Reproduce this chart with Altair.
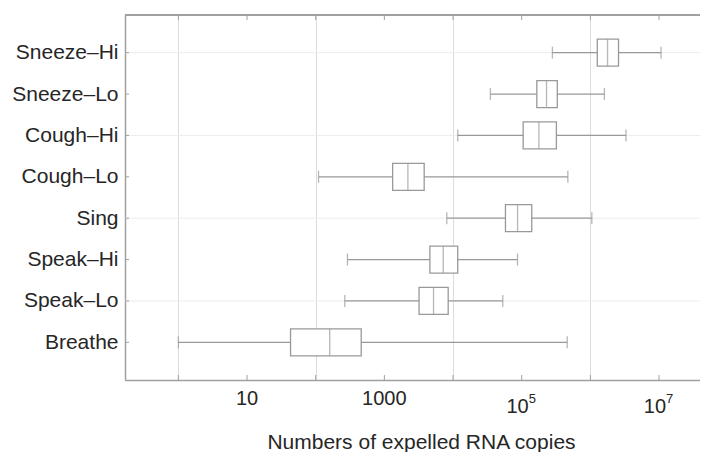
import altair as alt
import pandas as pd

# ---- data ----
categories = ["Sneeze–Hi", "Sneeze–Lo", "Cough–Hi", "Cough–Lo",
              "Sing", "Speak–Hi", "Speak–Lo", "Breathe"]
whisker_lo = [2.8e5, 3.5e4, 1.17e4, 110, 8100, 290, 265, 1]
q1 = [1.26e6, 1.66e5, 1.05e5, 1320, 5.8e4, 4600, 3200, 43]
median = [1.78e6, 2.3e5, 1.78e5, 2200, 8.7e4, 7200, 5200, 160]
q3 = [2.57e6, 3.3e5, 3.2e5, 3800, 1.4e5, 1.17e4, 8500, 460]
whisker_hi = [1.07e7, 1.6e6, 3.3e6, 4.7e5, 1.05e6, 8.7e4, 5.3e4, 4.6e5]

grid_categories = ["Sneeze–Hi", "Cough–Hi", "Sing", "Speak–Lo"]
decade_ticks = [1, 10, 100, 1000, 1e4, 1e5, 1e6, 1e7]
grid_x = [1, 100, 1e4, 1e6]
plain_labels = [10, 1000]
plain_label_text = ["10", "1000"]
power_labels = [1e5, 1e7]
power_label_exp = ["5", "7"]

x_title = "Numbers of expelled RNA copies"

W, H = 575, 365
FONT = "Liberation Sans"
TXT = "#262626"
LINE = "#999999"

df = pd.DataFrame({"cat": categories, "lo": whisker_lo, "q1": q1,
                   "med": median, "q3": q3, "hi": whisker_hi})
df_grid = pd.DataFrame({"cat": grid_categories})
df_ticks = pd.DataFrame({"v": decade_ticks})
df_plain = pd.DataFrame({"v": plain_labels, "t": plain_label_text})
df_pow = pd.DataFrame({"v": power_labels, "e": power_label_exp,
                       "b": ["10"] * len(power_labels)})
df_cat = pd.DataFrame({"cat": categories})

xscale = alt.Scale(type="log", domain=[0.167, 3.95e7], nice=False)
yscale = alt.Scale(type="point", domain=categories, padding=0.91)

X_AXIS = alt.Axis(values=grid_x, grid=True, gridColor="#dcdcdc", gridWidth=1,
                  ticks=False, labels=False, domainColor="#a0a0a0", domainWidth=1.5,
                  title=x_title, titleFont=FONT, titleFontSize=21,
                  titleFontWeight="normal", titleColor=TXT,
                  titleX=296, titleY=68, titleBaseline="alphabetic",
                  titleAlign="center", titleAnchor="start")
Y_AXIS = alt.Axis(title=None, ticks=False, grid=False, labelFont=FONT,
                  labelFontSize=21, labelColor=TXT, labelPadding=7,
                  domainColor="#a0a0a0", domainWidth=1.5)

base = alt.Chart(df)

hgrid = alt.Chart(df_grid).mark_rule(color="#ececec", strokeWidth=1).encode(
    y=alt.Y("cat:N", scale=yscale, axis=Y_AXIS),
    x=alt.value(0), x2=alt.value(W))

whisk = base.mark_rule(color=LINE, strokeWidth=1.3).encode(
    x=alt.X("lo:Q", scale=xscale, axis=X_AXIS),
    x2="hi:Q",
    y=alt.Y("cat:N", scale=yscale, axis=Y_AXIS))

cap_lo = base.mark_tick(color=LINE, thickness=1.3, size=12).encode(
    x=alt.X("lo:Q", scale=xscale), y=alt.Y("cat:N", scale=yscale))
cap_hi = base.mark_tick(color=LINE, thickness=1.3, size=12).encode(
    x=alt.X("hi:Q", scale=xscale), y=alt.Y("cat:N", scale=yscale))

box = base.mark_bar(size=27, fill="white", stroke=LINE, strokeWidth=1.3).encode(
    x=alt.X("q1:Q", scale=xscale), x2="q3:Q",
    y=alt.Y("cat:N", scale=yscale))

med = base.mark_tick(color=LINE, thickness=1.3, size=27).encode(
    x=alt.X("med:Q", scale=xscale), y=alt.Y("cat:N", scale=yscale))

tick_bottom = alt.Chart(df_ticks).mark_rule(color="#a0a0a0", strokeWidth=1).encode(
    x=alt.X("v:Q", scale=xscale), y=alt.value(H), y2=alt.value(H - 5))
tick_top = alt.Chart(df_ticks).mark_rule(color="#a0a0a0", strokeWidth=1).encode(
    x=alt.X("v:Q", scale=xscale), y=alt.value(0), y2=alt.value(5))
tick_left = alt.Chart(df_cat).mark_rule(color="#a0a0a0", strokeWidth=1).encode(
    y=alt.Y("cat:N", scale=yscale), x=alt.value(0), x2=alt.value(4))
top_frame = alt.Chart(df_cat).mark_rule(color="#a0a0a0", strokeWidth=1.5).encode(
    x=alt.value(0), x2=alt.value(W), y=alt.value(0))

lab_plain = alt.Chart(df_plain).mark_text(
    font=FONT, fontSize=20, color=TXT, align="center", baseline="alphabetic").encode(
    x=alt.X("v:Q", scale=xscale), y=alt.value(390), text="t:N")
lab_pow_base = alt.Chart(df_pow).mark_text(
    font=FONT, fontSize=20, color=TXT, align="right", baseline="alphabetic", dx=7).encode(
    x=alt.X("v:Q", scale=xscale), y=alt.value(398), text="b:N")
lab_pow_exp = alt.Chart(df_pow).mark_text(
    font=FONT, fontSize=13, color=TXT, align="left", baseline="alphabetic", dx=7).encode(
    x=alt.X("v:Q", scale=xscale), y=alt.value(388), text="e:N")

chart = alt.layer(
    hgrid, whisk, cap_lo, cap_hi, box, med,
    tick_bottom, tick_top, tick_left, top_frame,
    lab_plain, lab_pow_base, lab_pow_exp
).properties(
    width=W, height=H,
    autosize=alt.AutoSizeParams(type="none"),
    padding={"left": 117, "top": 7, "right": 0, "bottom": 72}
).configure_view(stroke=None).configure(background="white")

chart.save("out.html", embed_options={"renderer": "svg", "actions": False})
